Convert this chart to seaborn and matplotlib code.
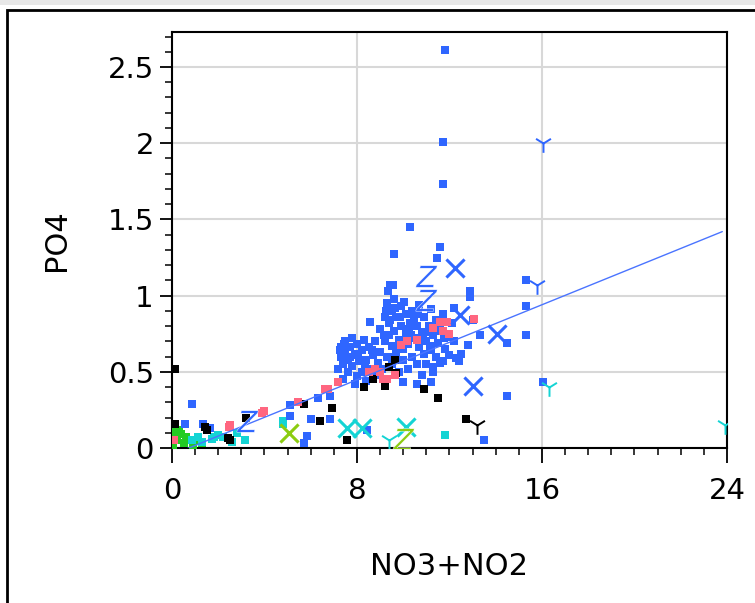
import matplotlib
matplotlib.use("Agg")
import matplotlib.pyplot as plt
from matplotlib.patches import Rectangle
from matplotlib.ticker import MultipleLocator
import seaborn as sns

sns.set_theme(style="white")
plt.rcParams["font.family"] = ["DejaVu Sans"]
plt.rcParams["text.color"] = "black"
plt.rcParams["axes.labelcolor"] = "black"
plt.rcParams["xtick.color"] = "black"
plt.rcParams["ytick.color"] = "black"

# blue squares (main group)
blue_x = [11.8, 11.7, 11.7, 10.3, 9.6, 11.6, 11.45, 9.45, 0.85, 0.55, 1.35, 1.65,
          5.1, 5.1, 6.0, 6.85, 6.85, 6.3, 8.55, 8.45, 5.7, 5.85, 13.5,
          15.3, 15.3, 15.3, 16.05, 14.5, 12.9, 12.9, 13.3, 14.5, 12.8, 12.5, 12.4,
          11.7, 11.3, 10.0, 10.6, 11.2, 13.0,
          7.2, 7.3, 7.3, 7.4, 7.5, 7.5, 7.6, 7.6, 7.7, 7.8, 7.8, 7.9, 8.0, 8.0,
          8.1, 8.2, 8.2, 8.3, 8.4, 8.4, 8.5, 8.6, 8.7, 8.8, 8.8, 8.9, 7.4, 7.9, 8.3,
          9.0, 9.0, 9.1, 9.2, 9.2, 9.3, 9.3, 9.4, 9.4, 9.5, 9.5, 9.5, 9.6, 9.6,
          9.7, 9.7, 9.8, 9.8, 9.9, 9.9, 10.0, 10.0, 10.1, 10.1, 9.35, 9.55,
          10.2, 10.2, 10.3, 10.4, 10.4, 10.5, 10.6, 10.6, 10.7, 10.7, 10.8, 10.8,
          10.9, 10.9, 11.0, 11.0, 11.1, 11.2, 11.2, 11.3, 11.3, 11.4, 11.4, 11.5,
          11.6, 11.6, 11.7, 11.8, 11.9, 12.0, 12.1, 12.2, 12.3, 12.2,
          7.25, 7.45, 7.7, 8.05, 8.35, 8.65, 9.15, 9.45, 9.75, 10.35, 10.75, 11.05,
          9.25, 9.45, 9.65, 9.85, 10.05, 10.25, 10.45, 10.65, 10.85, 11.15, 11.45, 11.75]
blue_y = [2.61, 2.01, 1.73, 1.45, 1.27, 1.32, 1.25, 1.07, 0.29, 0.16, 0.16, 0.13,
          0.28, 0.21, 0.19, 0.19, 0.34, 0.33, 0.83, 0.12, 0.03, 0.08, 0.05,
          1.10, 0.93, 0.74, 0.43, 0.34, 1.03, 0.99, 0.74, 0.69, 0.675, 0.62, 0.57,
          0.57, 0.53, 0.43, 0.42, 0.43, 0.84,
          0.52, 0.60, 0.66, 0.55, 0.63, 0.70, 0.50, 0.58, 0.66, 0.72, 0.54, 0.61, 0.47, 0.68,
          0.57, 0.64, 0.50, 0.71, 0.58, 0.44, 0.66, 0.52, 0.61, 0.70, 0.48, 0.56, 0.45, 0.42, 0.40,
          0.63, 0.78, 0.52, 0.70, 0.86, 0.60, 0.95, 0.74, 0.82, 0.55, 0.67, 0.90, 0.98, 0.77,
          0.62, 0.86, 0.71, 0.50, 0.80, 0.93, 0.65, 0.58, 0.75, 0.88, 1.03, 1.07,
          0.68, 0.52, 0.82, 0.60, 0.90, 0.72, 0.55, 0.80, 0.66, 0.94, 0.48, 0.76,
          0.62, 0.86, 0.70, 0.55, 0.80, 0.64, 0.91, 0.74, 0.50, 0.60, 0.84, 0.69,
          0.78, 0.56, 0.88, 0.65, 0.73, 0.61, 0.82, 0.70, 0.59, 0.92,
          0.64, 0.68, 0.60, 0.62, 0.55, 0.64, 0.74, 0.60, 0.66, 0.74, 0.70, 0.76,
          0.90, 0.84, 0.92, 0.86, 0.96, 0.78, 0.85, 0.88, 0.72, 0.67, 0.77, 0.72]

pink_x = [2.5, 2.45, 3.9, 4.0, 5.45, 6.6, 6.75, 7.2, 8.5, 8.8, 9.0, 9.14, 9.3, 9.65,
          9.9, 10.16, 10.6, 11.3, 11.6, 11.7, 11.9, 12.0, 13.05, 0.1]
pink_y = [0.15, 0.14, 0.23, 0.24, 0.30, 0.39, 0.39, 0.43, 0.50, 0.52, 0.50, 0.45, 0.45, 0.48,
          0.675, 0.70, 0.71, 0.79, 0.83, 0.77, 0.83, 0.75, 0.845, 0.05]

black_x = [0.13, 0.13, 3.2, 2.5, 1.5, 5.7, 6.9, 6.4, 8.3, 8.7, 9.2, 9.7, 9.37, 9.65,
           7.56, 10.9, 11.5, 12.7, 1.43, 2.44]
black_y = [0.52, 0.16, 0.20, 0.05, 0.12, 0.29, 0.26, 0.18, 0.40, 0.45, 0.41, 0.49, 0.53, 0.58,
           0.05, 0.385, 0.33, 0.19, 0.14, 0.064]

cyan_x = [11.8, 4.8, 4.8, 3.16, 2.8, 1.12, 1.72, 2.0, 0.85, 1.8, 1.3, 2.2, 2.6]
cyan_y = [0.085, 0.18, 0.16, 0.05, 0.10, 0.07, 0.06, 0.085, 0.05, 0.07, 0.04, 0.07, 0.04]

green_x = [0.1, 0.2, 0.3, 0.5, 0.6, 0.9, 1.1, 0.05, 0.4, 0.15, 1.3]
green_y = [0.10, 0.05, 0.12, 0.03, 0.07, 0.02, 0.05, 0.02, 0.09, 0.14, 0.03]

# cross markers
xblue_x = [12.25, 12.47, 14.06, 13.0]
xblue_y = [1.18, 0.87, 0.75, 0.41]
xcyan_x = [7.56, 8.2, 10.1]
xcyan_y = [0.13, 0.13, 0.14]
xlime_x = [5.04]
xlime_y = [0.096]

# "Y" markers
yblue_x = [16.05, 15.8]
yblue_y = [2.0, 1.07]
ycyan_x = [16.3, 23.9, 9.37]
ycyan_y = [0.40, 0.15, 0.05]
yblack_x = [13.2]
yblack_y = [0.15]

# "Z" markers
zblue_x = [11.0, 11.0, 3.25]
zblue_y = [1.13, 0.97, 0.18]
zlime_x = [10.0]
zlime_y = [0.06]

# fitted line
trend_x = [0.4, 23.8]
trend_y = [-0.02, 1.42]

BLUE = "#2f66ff"
PINK = "#ff6680"
CYAN = "#14d4d4"
GREEN = "#22cc22"
LIME = "#8ccc10"

fig = plt.figure(figsize=(7.55, 6.03), dpi=100)
ax = fig.add_axes([0.2278, 0.257, 0.735, 0.69])

sns.lineplot(x=trend_x, y=trend_y, color="#4a74ff", lw=1, ax=ax, zorder=4)

sq = dict(marker="s", s=38, linewidth=0, ax=ax, zorder=3)
sns.scatterplot(x=green_x, y=green_y, color=GREEN, **sq)
sns.scatterplot(x=cyan_x, y=cyan_y, color=CYAN, **sq)
sns.scatterplot(x=blue_x, y=blue_y, color=BLUE, **sq)
sns.scatterplot(x=black_x, y=black_y, color="black", **sq)
sns.scatterplot(x=pink_x, y=pink_y, color=PINK, **sq)

xm = dict(marker="x", s=170, linewidth=2.2, ax=ax, zorder=5)
sns.scatterplot(x=xblue_x, y=xblue_y, color=BLUE, **xm)
sns.scatterplot(x=xcyan_x, y=xcyan_y, color=CYAN, **xm)
sns.scatterplot(x=xlime_x, y=xlime_y, color=LIME, **xm)

ym = dict(marker="1", s=180, linewidth=1.4, ax=ax, zorder=5)
sns.scatterplot(x=yblue_x, y=yblue_y, color=BLUE, **ym)
sns.scatterplot(x=ycyan_x, y=ycyan_y, color=CYAN, **ym)
sns.scatterplot(x=yblack_x, y=yblack_y, color="black", **ym)

zm = dict(marker="$Z$", s=240, linewidth=0.3, ax=ax, zorder=5)
sns.scatterplot(x=zblue_x, y=zblue_y, color=BLUE, **zm)
sns.scatterplot(x=zlime_x, y=zlime_y, color=LIME, **zm)

ax.set_xlim(0, 24)
ax.set_ylim(0, 2.73)
ax.xaxis.set_major_locator(MultipleLocator(8))
ax.xaxis.set_minor_locator(MultipleLocator(1))
ax.yaxis.set_major_locator(MultipleLocator(0.5))
ax.yaxis.set_minor_locator(MultipleLocator(0.1))
ax.set_yticks([0, 0.5, 1, 1.5, 2, 2.5])
ax.set_yticklabels(["0", "0.5", "1", "1.5", "2", "2.5"])
ax.grid(True, which="major", color="#d8d8d8", lw=1.5, zorder=0)
ax.set_axisbelow(True)
for s in ax.spines.values():
    s.set_color("black")
    s.set_linewidth(1.5)
ax.tick_params(axis="x", which="major", direction="out", length=11, width=1.3,
               labelsize=21, pad=10, bottom=True)
ax.tick_params(axis="y", which="major", direction="out", length=9, width=1.3,
               labelsize=21, pad=4, left=True)
ax.tick_params(which="minor", direction="out", length=5, width=1.1,
               bottom=True, left=True)
ax.set_xlabel("NO3+NO2", fontsize=22, labelpad=34)
ax.set_ylabel("PO4", fontsize=22, labelpad=26)

# window frame
fig.patches.append(Rectangle((0.009, -0.05), 1.2, 1.033, transform=fig.transFigure,
                             fill=False, edgecolor="black", lw=2))
fig.patches.append(Rectangle((0.0, 0.992), 1.0, 0.008, transform=fig.transFigure,
                             facecolor="#e8e8e8", edgecolor="none"))

plt.savefig("out.png", dpi=100)
